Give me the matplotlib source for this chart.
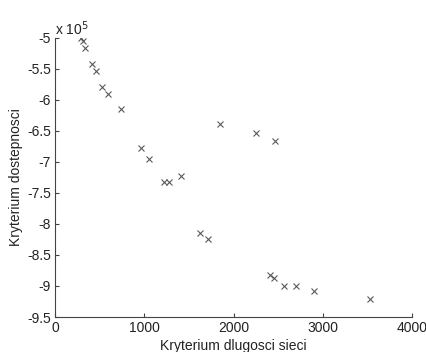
import matplotlib
matplotlib.use("Agg")
import matplotlib.pyplot as plt
from matplotlib.ticker import FuncFormatter

# ── data ────────────────────────────────────
dlugosc = [292, 311, 340, 416, 457, 528, 599, 742, 966, 1053,
           1225, 1273, 1416, 1629, 1716, 1854, 2247, 2461,
           2408, 2453, 2566, 2703, 2903, 3532]
dostepnosc = [-5.00e5, -5.05e5, -5.17e5, -5.42e5, -5.54e5, -5.79e5, -5.91e5,
              -6.15e5, -6.77e5, -6.96e5, -7.32e5, -7.32e5, -7.23e5,
              -8.14e5, -8.24e5, -6.39e5, -6.53e5, -6.66e5,
              -8.82e5, -8.87e5, -9.00e5, -9.00e5, -9.08e5, -9.21e5]

x_ticks = [0, 1000, 2000, 3000, 4000]
y_ticks = [-9.5e5, -9e5, -8.5e5, -8e5, -7.5e5, -7e5, -6.5e5, -6e5, -5.5e5, -5e5]

plt.rcParams["font.family"] = ["Liberation Sans", "DejaVu Sans"]
plt.rcParams["font.size"] = 10

fig = plt.figure(figsize=(4.27, 3.52), dpi=100)
ax = fig.add_axes([0.1288, 0.0994, 0.8362, 0.7936])

ax.plot(dlugosc, dostepnosc, linestyle="none", marker="x",
        markersize=5, markeredgewidth=0.8, color="#5a5a5a")

ax.set_xlim(0, 4000)
ax.set_ylim(-9.5e5, -5e5)
ax.set_xticks(x_ticks)
ax.set_yticks(y_ticks)
ax.yaxis.set_major_formatter(FuncFormatter(lambda v, p: f"{v / 1e5:g}"))

for side in ("top", "right"):
    ax.spines[side].set_visible(False)
for side in ("left", "bottom"):
    ax.spines[side].set_color("#444444")
    ax.spines[side].set_linewidth(0.8)
ax.tick_params(direction="in", length=3, width=0.8, color="#444444",
               labelcolor="#222222", pad=3)

# MATLAB-style exponent label above the y axis
ax.text(0.0, 1.0, "x 10$^{5}$", transform=ax.transAxes,
        ha="left", va="bottom", color="#222222", fontsize=10)

ax.set_xlabel("Kryterium dlugosci sieci", color="#222222", labelpad=3)
ax.set_ylabel("Kryterium dostepnosci", color="#222222", labelpad=3)

fig.savefig("out.png", dpi=100)
